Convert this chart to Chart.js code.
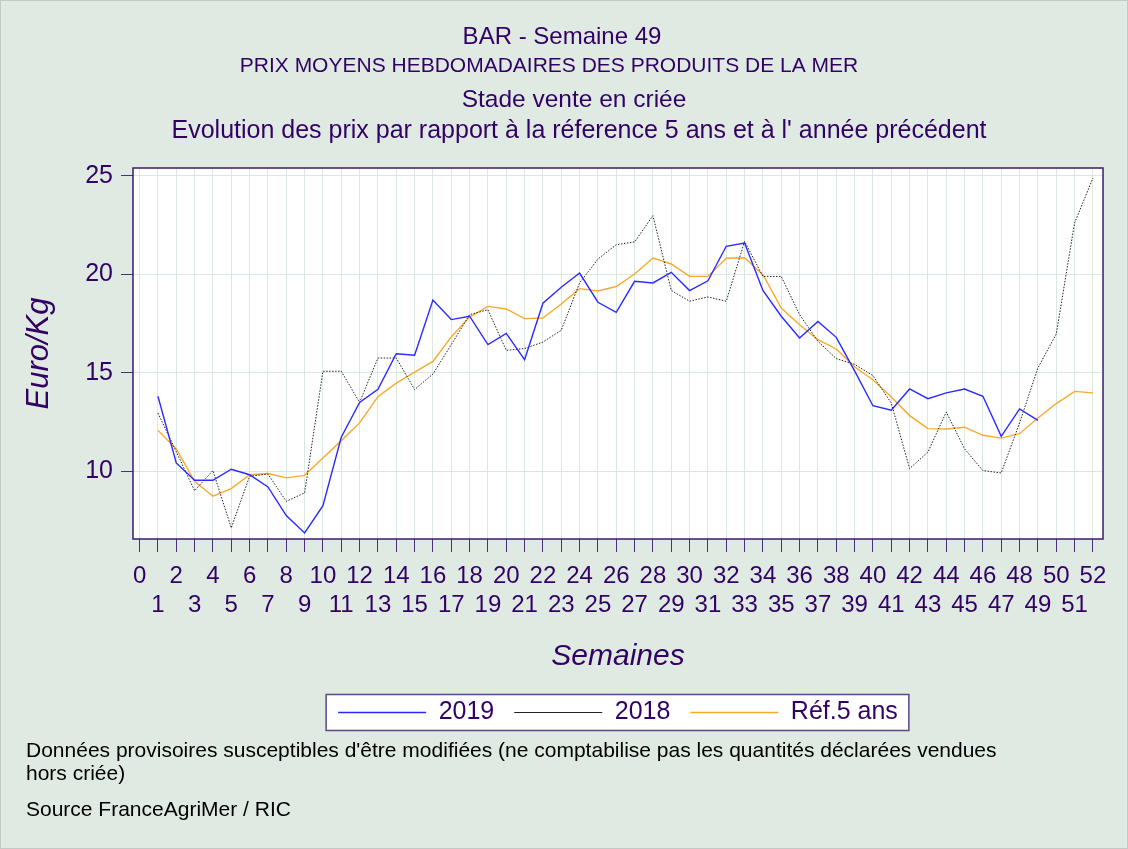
<!DOCTYPE html>
<html>
<head>
<meta charset="utf-8">
<script src="https://cdn.jsdelivr.net/npm/chart.js@4.4.1/dist/chart.umd.min.js"></script>
<style>
  html, body { margin: 0; padding: 0; background: #dfebe2; }
  #wrap { width: 1128px; height: 849px; position: relative; overflow: hidden; }
  canvas { display: block; }
</style>
</head>
<body>
<div id="wrap"><canvas id="c" width="1128" height="849"></canvas></div>
<script>
// ---------- data ----------
const weeks = [1,2,3,4,5,6,7,8,9,10,11,12,13,14,15,16,17,18,19,20,21,22,23,24,25,26,
               27,28,29,30,31,32,33,34,35,36,37,38,39,40,41,42,43,44,45,46,47,48,49,50,51,52];

const prix2019 = [13.81,10.43,9.55,9.55,10.11,9.83,9.21,7.76,6.88,8.26,11.73,13.50,14.16,
                  15.97,15.89,18.69,17.70,17.87,16.43,17.00,15.67,18.53,19.34,20.06,18.58,18.07,
                  19.64,19.56,20.10,19.17,19.67,21.42,21.58,19.18,17.87,16.77,17.61,16.80,15.10,
                  13.33,13.10,14.18,13.69,13.98,14.18,13.81,11.78,13.17,12.59];

const prix2018 = [12.96,11.00,9.02,10.04,7.13,9.75,9.87,8.48,8.91,15.08,15.08,13.50,15.75,
                  15.75,14.15,14.94,16.43,17.95,18.20,16.14,16.23,16.56,17.16,19.56,20.77,21.50,
                  21.64,22.97,19.18,18.63,18.85,18.63,21.67,19.89,19.89,17.95,16.60,15.72,15.43,
                  14.86,13.47,10.14,10.98,13.01,11.14,10.04,9.92,12.46,15.25,16.97,22.60,24.88];

const ref5ans  = [12.08,11.14,9.50,8.74,9.13,9.83,9.89,9.67,9.80,10.68,11.56,12.46,13.79,
                  14.48,15.03,15.58,16.82,17.83,18.37,18.24,17.75,17.78,18.49,19.27,19.15,19.38,
                  20.01,20.82,20.52,19.89,19.89,20.81,20.84,19.98,18.29,17.44,16.68,16.21,15.31,
                  14.65,13.77,12.83,12.17,12.15,12.24,11.83,11.69,11.91,12.71,13.44,14.06,13.98];

const xTickValues = [0,1,2,3,4,5,6,7,8,9,10,11,12,13,14,15,16,17,18,19,20,21,22,23,24,25,26,
                     27,28,29,30,31,32,33,34,35,36,37,38,39,40,41,42,43,44,45,46,47,48,49,50,51,52];
const yTickValues = [10, 15, 20, 25];

const seriesNames = ['2019', '2018', 'Réf.5 ans'];

const titleLines = [
  'BAR - Semaine 49',
  'PRIX MOYENS HEBDOMADAIRES DES PRODUITS DE LA MER',
  'Stade vente en criée',
  "Evolution des prix par rapport à la réference 5 ans et à l' année précédent"
];
const noteLines = [
  "Données provisoires susceptibles d'être modifiées (ne comptabilise pas les quantités déclarées vendues",
  'hors criée)',
  'Source FranceAgriMer / RIC'
];

// ---------- styles ----------
const FAMILY = '"Liberation Sans", Arial, Helvetica, sans-serif';
const TXT = '#330066';
const BG = '#dfebe2';
const GRID = '#dbe8df';
const TICK = '#4b3278';
const FRAME = '#3a1d6a';

const toXY = (vals) => vals.map((v, i) => ({ x: weeks[i], y: v }));

const decor = {
  id: 'decor',
  beforeDraw(chart) {
    const { ctx, chartArea: a, width, height } = chart;
    ctx.save();
    ctx.fillStyle = BG;
    ctx.fillRect(0, 0, width, height);
    ctx.fillStyle = '#ffffff';
    ctx.fillRect(a.left, a.top, a.right - a.left, a.bottom - a.top);
    // legend frame
    const hb = chart.legend && chart.legend.legendHitBoxes;
    if (hb && hb.length) {
      const first = hb[0], last = hb[hb.length - 1];
      const cy = first.top + first.height / 2;
      const lx = first.left - 12, rx = last.left + last.width + 11;
      ctx.fillStyle = '#ffffff';
      ctx.fillRect(lx, cy - 18, rx - lx, 36);
      ctx.strokeStyle = '#5a4785';
      ctx.lineWidth = 1.5;
      ctx.strokeRect(lx, cy - 18, rx - lx, 36);
    }
    ctx.restore();
  },
  afterDraw(chart) {
    const { ctx, chartArea: a, width, height } = chart;
    ctx.save();
    // plot frame
    ctx.strokeStyle = FRAME;
    ctx.lineWidth = 1.5;
    ctx.strokeRect(a.left, a.top, a.right - a.left, a.bottom - a.top);
    // titles
    ctx.fillStyle = TXT;
    ctx.textAlign = 'center';
    ctx.textBaseline = 'middle';
    const tSpec = [
      { size: 24, x: 562, y: 37 },
      { size: 21, x: 549, y: 66 },
      { size: 24.5, x: 574, y: 100 },
      { size: 25, x: 579, y: 131 }
    ];
    titleLines.forEach((t, i) => {
      ctx.font = tSpec[i].size + 'px ' + FAMILY;
      ctx.fillText(t, tSpec[i].x, tSpec[i].y);
    });
    // notes
    ctx.fillStyle = '#000000';
    ctx.textAlign = 'left';
    ctx.font = '21px ' + FAMILY;
    const nY = [751, 774, 810];
    noteLines.forEach((t, i) => ctx.fillText(t, 26, nY[i]));
    // outer border
    ctx.strokeStyle = '#c3cac5';
    ctx.lineWidth = 1;
    ctx.strokeRect(0.5, 0.5, width - 1, height - 1);
    ctx.restore();
  }
};

new Chart(document.getElementById('c'), {
  type: 'line',
  data: {
    datasets: [
      { label: seriesNames[0], data: toXY(prix2019), borderColor: '#2a2aff', borderWidth: 1.4,
        pointRadius: 0, tension: 0, fill: false },
      { label: seriesNames[1], data: toXY(prix2018), borderColor: '#222222', borderWidth: 1,
        borderDash: [1.5, 1.5], pointRadius: 0, tension: 0, fill: false },
      { label: seriesNames[2], data: toXY(ref5ans), borderColor: '#f9a92a', borderWidth: 1.4,
        pointRadius: 0, tension: 0, fill: false }
    ]
  },
  options: {
    responsive: false,
    animation: false,
    devicePixelRatio: 1,
    layout: { padding: { top: 168, left: 0, right: 25, bottom: 114 } },
    plugins: {
      title: { display: false },
      tooltip: { enabled: false },
      legend: {
        display: true,
        position: 'bottom',
        fullSize: false,
        labels: {
          usePointStyle: true,
          pointStyle: 'line',
          pointStyleWidth: 88,
          padding: 20,
          color: TXT,
          font: { size: 25, family: FAMILY }
        }
      }
    },
    scales: {
      x: {
        type: 'linear',
        min: -0.36,
        max: 52.55,
        afterBuildTicks: (s) => { s.ticks = xTickValues.map(v => ({ value: v })); },
        afterFit: (s) => { s.height = 141; },
        grid: { color: GRID, tickColor: TICK, tickLength: 13, lineWidth: 1 },
        border: { display: false },
        ticks: {
          autoSkip: false, maxRotation: 0, minRotation: 0,
          color: TXT, font: { size: 24, family: FAMILY }, padding: 10,
          callback: (v) => (v % 2 === 0 ? String(v) : ['', String(v)])
        },
        title: {
          display: true, text: 'Semaines', color: TXT,
          font: { size: 30, style: 'italic', family: FAMILY },
          padding: { top: 0, bottom: 5 }
        }
      },
      y: {
        min: 6.57,
        max: 25.39,
        afterBuildTicks: (s) => { s.ticks = yTickValues.map(v => ({ value: v })); },
        afterFit: (s) => { s.width = 133; },
        grid: { color: GRID, tickColor: TICK, tickLength: 12, lineWidth: 1 },
        border: { display: false },
        ticks: { color: TXT, font: { size: 25, family: FAMILY }, padding: 8 },
        title: {
          display: true, text: 'Euro/Kg', color: TXT,
          font: { size: 31, style: 'italic', family: FAMILY },
          padding: { top: 21, bottom: 0 }
        }
      }
    }
  },
  plugins: [decor]
});
</script>
</body>
</html>
